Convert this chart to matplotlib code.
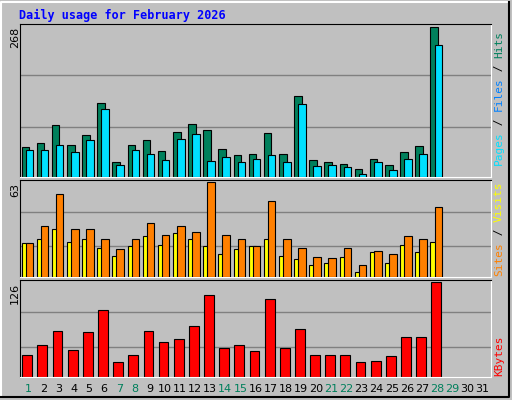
import matplotlib.pyplot as plt
from matplotlib.lines import Line2D
import numpy as np

days = np.arange(1, 29)
hits = [53, 61, 93, 57, 75, 132, 26, 57, 66, 46, 81, 95, 84, 50, 39, 41, 79, 41, 144, 30, 26, 24, 15, 32, 21, 44, 55, 268]
files = [48, 48, 57, 44, 66, 122, 21, 48, 41, 30, 68, 77, 28, 35, 26, 32, 39, 26, 131, 19, 21, 17, 6, 26, 13, 32, 41, 235]
visits = [22.6, 34, 55, 32, 32, 25, 18.5, 25.5, 36, 28, 33.5, 30, 63, 28, 25, 20.5, 50.6, 25, 19, 13, 12.3, 19, 8, 17, 15, 27, 25, 46.5]
sites = [22.6, 25, 32, 23, 25, 19, 14, 20.5, 27, 21, 29, 25, 20.5, 15, 18.5, 20.5, 25, 14, 11.6, 8, 9.6, 13, 3.4, 16.4, 9.6, 21, 16.4, 23]
kbytes = [29, 43, 61, 36, 60, 89, 20, 29, 61, 47, 50, 68, 108, 38, 42, 34, 104, 39, 63, 29, 29, 29, 20, 21, 28, 53, 53, 126]
weekend_days = [1, 7, 8, 14, 15, 21, 22, 28, 29]

W, H = 512, 400
bg = '#c0c0c0'
mono = 'DejaVu Sans Mono'
fig = plt.figure(figsize=(W / 100, H / 100), dpi=100, facecolor=bg)

def px_axes(x0, y0, x1, y1):
    return fig.add_axes([x0 / W, 1 - y1 / H, (x1 - x0) / W, (y1 - y0) / H])

def style(ax, ymax, grid_fracs):
    ax.set_facecolor(bg)
    ax.set_xlim(0.45, 31.55)
    ax.set_ylim(0, ymax * 1.02)
    for g in grid_fracs:
        ax.axhline(g * ymax, color='#808080', lw=1, zorder=0)
    ax.set_xticks([]); ax.set_yticks([])
    for s in ['top', 'left']:
        ax.spines[s].set_color('black')
    for s in ['bottom', 'right']:
        ax.spines[s].set_color('white')

# outer frame
fig.add_artist(Line2D([1 / W, 1 / W, 509 / W], [1 - 397 / H, 1 - 2 / H, 1 - 2 / H], color='white', lw=1.5))
fig.add_artist(Line2D([1 / W, 509 / W, 509 / W], [1 - 397 / H, 1 - 397 / H, 1 - 2 / H], color='black', lw=1.5))

ax1 = px_axes(20, 24, 491, 177)
style(ax1, 268, [0.335, 0.679])
ax1.bar(days - 0.2, hits, 0.5, color='#00805c', edgecolor='black', lw=0.8, zorder=2)
ax1.bar(days + 0.07, files, 0.5, color='#00e0ff', edgecolor='black', lw=0.8, zorder=3)

ax2 = px_axes(20, 180, 491, 277)
style(ax2, 63, [0.326, 0.685])
ax2.bar(days - 0.2, sites, 0.5, color='#ffff00', edgecolor='black', lw=0.8, zorder=2)
ax2.bar(days + 0.07, visits, 0.5, color='#ff8000', edgecolor='black', lw=0.8, zorder=3)

ax3 = px_axes(20, 280, 491, 377)
style(ax3, 126, [0.32, 0.68])
ax3.bar(days - 0.07, kbytes, 0.65, color='#ff0000', edgecolor='black', lw=0.8, zorder=2)

fig.text(19 / W, 1 - 15 / H, 'Daily usage for February 2026', color='#0000ff',
         fontsize=8.5, fontweight='bold', family=mono, va='center')

# max value labels
for txt, y in [('268', 27), ('63', 183), ('126', 283)]:
    fig.text(15 / W, 1 - y / H, txt, rotation=90, fontsize=8, family='DejaVu Sans',
             ha='center', va='top')

# day labels
for d in range(1, 32):
    x = 20 + (d - 0.45) / 31.1 * 471
    fig.text(x / W, 1 - 389 / H, str(d), ha='center', va='center', fontsize=8,
             color='#00805c' if d in weekend_days else 'black')

# right-side legends, bottom to top
cw = 6.7
def vlabel(parts, y_bottom):
    y = y_bottom
    for txt, col in parts:
        fig.text(499 / W, 1 - y / H, txt, rotation=90, color=col, family=mono,
                 fontsize=8, ha='center', va='bottom')
        y -= len(txt) * cw

vlabel([('Pages', '#00e0ff'), (' / ', 'black'), ('Files', '#0080ff'), (' / ', 'black'), ('Hits', '#00805c')], 165)
vlabel([('Sites', '#ff8000'), (' / ', 'black'), ('Visits', '#ffff00')], 276)
vlabel([('KBytes', '#ff0000')], 376)

fig.savefig('out.png', dpi=100, facecolor=bg)
